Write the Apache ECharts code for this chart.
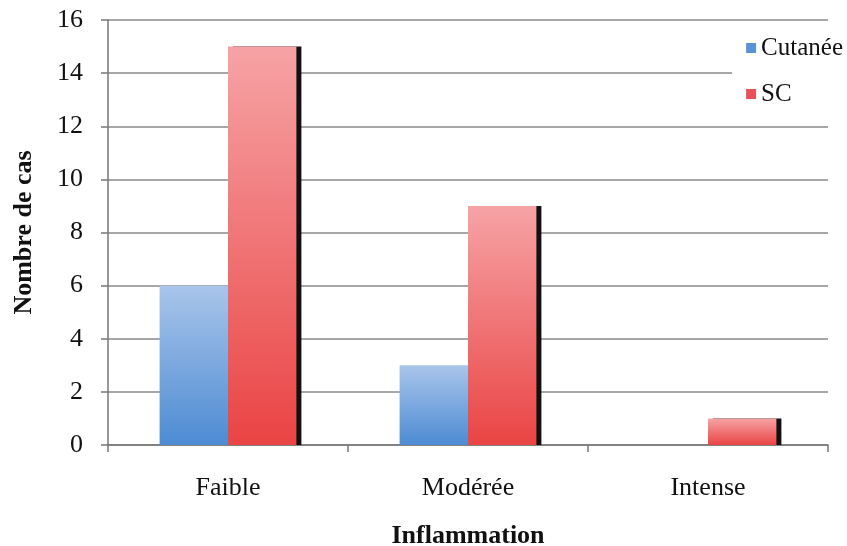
<!DOCTYPE html>
<html><head><meta charset="utf-8">
<script src="https://cdn.jsdelivr.net/npm/echarts@6/dist/echarts.min.js"></script>
<style>html,body{margin:0;padding:0;background:#fff}#c{width:847px;height:546px}</style>
</head><body><div id="c"></div>
<script>
const categories = ['Faible', 'Modérée', 'Intense'];
const seriesNames = ['Cutanée', 'SC'];
const cutanee = [6, 3, 0];
const sc = [15, 9, 1];
const yTicks = { min: 0, max: 16, interval: 2 };

const font = 'Liberation Serif';
const chart = echarts.init(document.getElementById('c'));
chart.setOption({
  animation: false,
  backgroundColor: '#fff',
  grid: { left: 108, right: 19, top: 20, bottom: 101, containLabel: false, outerBoundsMode: 'none' },
  legend: {
    orient: 'vertical', right: 0, top: 27, itemWidth: 10, itemHeight: 10, itemGap: 20,
    backgroundColor: '#fff', padding: [8, 4, 14, 14],
    textStyle: { fontFamily: font, fontSize: 25, lineHeight: 26, color: '#111' },
    data: [
      { name: seriesNames[0], icon: 'rect', itemStyle: { color: '#5b93d6' } },
      { name: seriesNames[1], icon: 'rect', itemStyle: { color: '#e8505a' } }
    ]
  },
  xAxis: {
    type: 'category', data: categories,
    name: 'Inflammation', nameLocation: 'middle', nameGap: 78,
    nameTextStyle: { fontFamily: font, fontSize: 26, fontWeight: 'bold', color: '#111' },
    axisLine: { lineStyle: { color: '#777', width: 1.5 } },
    axisTick: { show: true, length: 7, lineStyle: { color: '#777', width: 1.5 } },
    axisLabel: { fontFamily: font, fontSize: 26, color: '#111', margin: 30 }
  },
  yAxis: {
    type: 'value', min: yTicks.min, max: yTicks.max, interval: yTicks.interval,
    name: 'Nombre de cas', nameLocation: 'middle', nameGap: 71,
    nameTextStyle: { fontFamily: font, fontSize: 26, fontWeight: 'bold', color: '#111' },
    axisLine: { show: true, lineStyle: { color: '#777', width: 1.5 } },
    axisTick: { show: true, length: 7, lineStyle: { color: '#777', width: 1.5 } },
    axisLabel: { fontFamily: font, fontSize: 26, color: '#111', margin: 25 },
    splitLine: { lineStyle: { color: '#8a8a8a', width: 1.5 } }
  },
  series: [
    {
      name: seriesNames[0], type: 'bar', data: cutanee, barGap: '0%', barCategoryGap: '43%',
      itemStyle: { color: new echarts.graphic.LinearGradient(0, 0, 0, 1, [
        { offset: 0, color: '#a9c5ea' }, { offset: 1, color: '#4d8bd3' }]) }
    },
    {
      name: seriesNames[1], type: 'bar', data: sc,
      itemStyle: {
        color: new echarts.graphic.LinearGradient(0, 0, 0, 1, [
          { offset: 0, color: '#f6a3a5' }, { offset: 1, color: '#ea4444' }]),
        shadowColor: '#111', shadowOffsetX: 5, shadowOffsetY: 0, shadowBlur: 0
      }
    }
  ]
});
</script></body></html>
